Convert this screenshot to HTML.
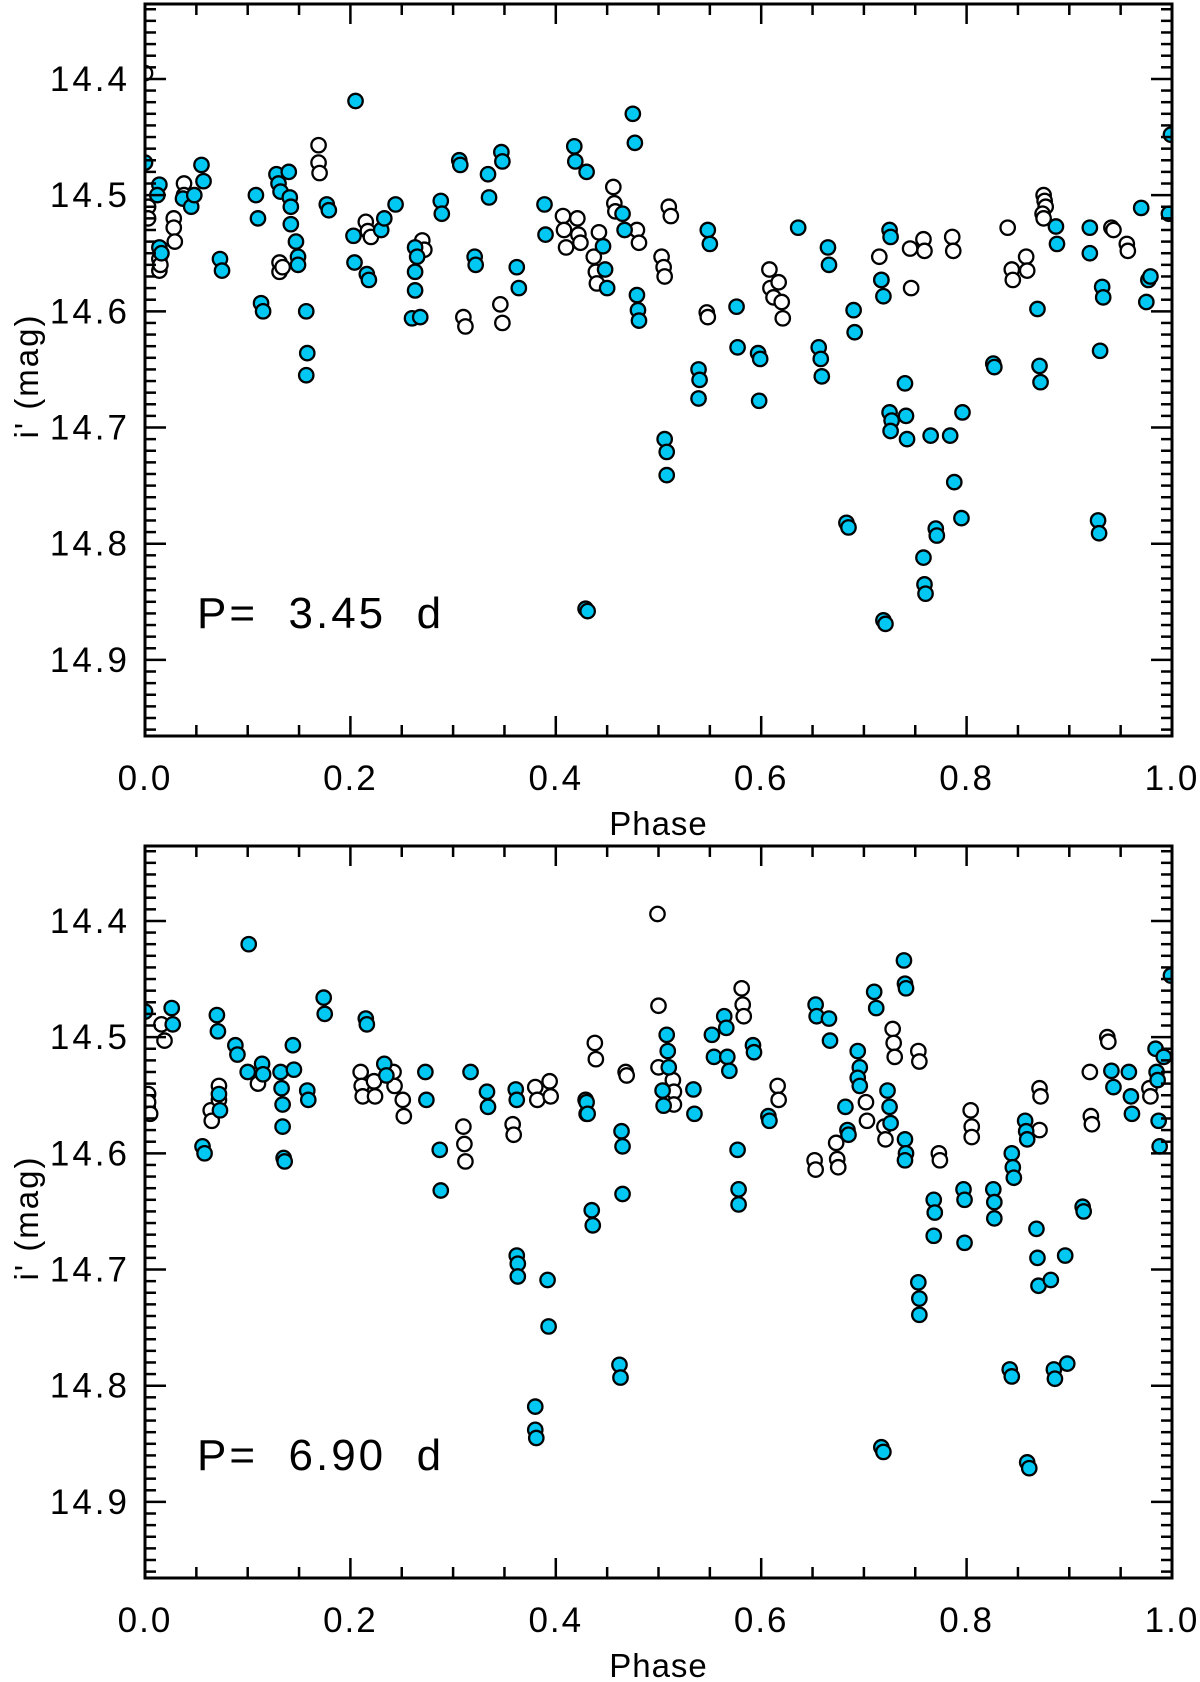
<!DOCTYPE html>
<html><head><meta charset="utf-8"><style>
body{margin:0;background:#fff}
svg{display:block}
text{font-family:"Liberation Sans",sans-serif;fill:#000}
</style></head><body>
<svg id="chart" width="1200" height="1682" viewBox="0 0 1200 1682" xmlns="http://www.w3.org/2000/svg"></svg>
<script>
// ---- Data: top panel (P = 3.45 d) ----
const topOpenPhase=[0,0.003,0.003,0.014,0.014,0.015,0.028,0.028,0.029,0.038,0.038,0.169,0.169,0.170,0.131,0.131,0.134,0.215,0.217,0.220,0.270,0.272,0.310,0.312,0.346,0.348,0.407,0.408,0.410,0.421,0.422,0.424,0.437,0.439,0.440,0.442,0.456,0.457,0.458,0.479,0.481,0.503,0.505,0.506,0.510,0.512,0.547,0.548,0.608,0.609,0.612,0.617,0.620,0.621,0.715,0.717,0.745,0.746,0.758,0.759,0.786,0.787,0.840,0.844,0.845,0.858,0.859,0.875,0.876,0.877,0.874,0.875,0.941,0.943,0.956,0.957];
const topOpenMag=[14.395,14.51,14.52,14.555,14.565,14.56,14.52,14.528,14.54,14.49,14.5,14.457,14.472,14.481,14.558,14.566,14.562,14.523,14.531,14.536,14.539,14.547,14.605,14.613,14.594,14.61,14.518,14.53,14.545,14.52,14.534,14.541,14.553,14.566,14.576,14.532,14.493,14.507,14.514,14.53,14.541,14.553,14.562,14.57,14.51,14.518,14.601,14.605,14.564,14.58,14.588,14.575,14.592,14.606,14.553,14.573,14.546,14.58,14.538,14.548,14.536,14.548,14.528,14.564,14.573,14.553,14.565,14.5,14.505,14.51,14.516,14.52,14.528,14.53,14.542,14.548];
const topFillPhase=[0,0.014,0.012,0.014,0.016,0.037,0.045,0.048,0.055,0.057,0.073,0.075,0.108,0.110,0.113,0.115,0.128,0.130,0.132,0.140,0.141,0.142,0.142,0.147,0.149,0.149,0.157,0.158,0.157,0.177,0.179,0.203,0.204,0.205,0.216,0.218,0.230,0.233,0.244,0.263,0.263,0.263,0.265,0.260,0.268,0.288,0.289,0.306,0.307,0.321,0.322,0.334,0.335,0.347,0.348,0.362,0.364,0.389,0.390,0.418,0.419,0.430,0.429,0.431,0.446,0.448,0.450,0.465,0.467,0.475,0.477,0.479,0.480,0.481,0.506,0.508,0.508,0.539,0.540,0.539,0.548,0.550,0.576,0.577,0.597,0.599,0.598,0.636,0.656,0.658,0.659,0.665,0.666,0.683,0.685,0.690,0.691,0.717,0.719,0.719,0.721,0.725,0.726,0.725,0.727,0.726,0.740,0.741,0.742,0.758,0.759,0.760,0.765,0.770,0.771,0.784,0.788,0.795,0.796,0.826,0.827,0.871,0.872,0.869,0.887,0.888,0.920,0.920,0.928,0.929,0.930,0.932,0.933,0.970,0.975,0.977,0.979,0.997,0.999];
const topFillMag=[14.472,14.491,14.5,14.545,14.55,14.503,14.51,14.5,14.474,14.488,14.555,14.565,14.5,14.52,14.593,14.6,14.482,14.49,14.497,14.48,14.502,14.51,14.525,14.54,14.553,14.56,14.6,14.636,14.655,14.508,14.513,14.535,14.558,14.419,14.568,14.573,14.53,14.52,14.508,14.545,14.566,14.582,14.553,14.606,14.605,14.505,14.516,14.47,14.474,14.553,14.56,14.482,14.502,14.463,14.471,14.562,14.58,14.508,14.534,14.458,14.471,14.48,14.856,14.858,14.544,14.564,14.58,14.516,14.53,14.43,14.455,14.586,14.599,14.608,14.71,14.721,14.741,14.65,14.659,14.675,14.53,14.542,14.596,14.631,14.636,14.641,14.677,14.528,14.631,14.641,14.656,14.545,14.56,14.782,14.786,14.599,14.618,14.573,14.587,14.866,14.869,14.53,14.536,14.687,14.694,14.703,14.662,14.69,14.71,14.812,14.835,14.843,14.707,14.787,14.793,14.707,14.747,14.778,14.687,14.645,14.648,14.647,14.661,14.598,14.527,14.542,14.528,14.55,14.78,14.791,14.634,14.579,14.588,14.511,14.592,14.573,14.57,14.516,14.448];
// ---- Data: bottom panel (P = 6.90 d) ----
const botOpenPhase=[0.003,0.003,0.005,0.016,0.019,0.064,0.065,0.072,0.072,0.110,0.210,0.211,0.212,0.223,0.224,0.242,0.243,0.251,0.252,0.310,0.311,0.312,0.358,0.359,0.380,0.382,0.394,0.395,0.429,0.430,0.438,0.439,0.468,0.469,0.499,0.500,0.500,0.514,0.515,0.515,0.581,0.582,0.583,0.616,0.617,0.652,0.653,0.673,0.674,0.675,0.702,0.703,0.720,0.721,0.728,0.729,0.730,0.753,0.754,0.773,0.774,0.804,0.805,0.805,0.871,0.872,0.871,0.920,0.921,0.922,0.937,0.938,0.978,0.979];
const botOpenMag=[14.549,14.556,14.566,14.489,14.503,14.563,14.572,14.542,14.554,14.54,14.53,14.542,14.551,14.538,14.551,14.53,14.542,14.554,14.568,14.577,14.592,14.607,14.575,14.584,14.543,14.554,14.538,14.551,14.554,14.566,14.505,14.519,14.53,14.533,14.394,14.473,14.526,14.537,14.547,14.558,14.458,14.472,14.482,14.542,14.554,14.606,14.614,14.591,14.605,14.612,14.556,14.572,14.577,14.588,14.493,14.505,14.517,14.512,14.521,14.6,14.606,14.563,14.577,14.586,14.544,14.551,14.58,14.53,14.568,14.575,14.5,14.504,14.544,14.551];
const botFillPhase=[0,0.026,0.027,0.056,0.058,0.070,0.071,0.072,0.073,0.088,0.090,0.101,0.100,0.114,0.115,0.132,0.133,0.134,0.134,0.135,0.136,0.144,0.145,0.158,0.159,0.174,0.175,0.215,0.216,0.233,0.235,0.273,0.274,0.287,0.288,0.317,0.333,0.334,0.361,0.362,0.362,0.363,0.363,0.380,0.380,0.381,0.392,0.393,0.430,0.431,0.435,0.436,0.462,0.463,0.464,0.465,0.465,0.504,0.505,0.508,0.509,0.510,0.534,0.535,0.552,0.554,0.564,0.566,0.567,0.569,0.577,0.578,0.578,0.592,0.593,0.607,0.608,0.653,0.654,0.666,0.667,0.682,0.684,0.685,0.694,0.696,0.694,0.696,0.710,0.712,0.717,0.719,0.723,0.725,0.726,0.739,0.740,0.741,0.740,0.741,0.740,0.753,0.754,0.754,0.768,0.769,0.768,0.797,0.798,0.798,0.826,0.827,0.827,0.842,0.844,0.844,0.845,0.846,0.857,0.858,0.859,0.859,0.861,0.868,0.869,0.870,0.882,0.885,0.886,0.896,0.898,0.913,0.914,0.941,0.943,0.958,0.960,0.961,0.984,0.985,0.986,0.987,0.988,0.992,0.999];
const botFillMag=[14.478,14.475,14.489,14.594,14.6,14.481,14.495,14.549,14.563,14.507,14.515,14.42,14.53,14.523,14.532,14.53,14.544,14.558,14.577,14.604,14.607,14.507,14.528,14.546,14.554,14.466,14.48,14.484,14.489,14.523,14.533,14.53,14.554,14.597,14.632,14.53,14.547,14.56,14.545,14.554,14.688,14.695,14.706,14.818,14.838,14.845,14.709,14.749,14.556,14.566,14.649,14.662,14.782,14.793,14.581,14.594,14.635,14.546,14.559,14.498,14.512,14.526,14.545,14.566,14.498,14.517,14.482,14.492,14.517,14.529,14.597,14.631,14.644,14.507,14.513,14.568,14.572,14.472,14.482,14.484,14.503,14.56,14.58,14.584,14.512,14.526,14.535,14.542,14.461,14.475,14.853,14.857,14.546,14.56,14.574,14.434,14.454,14.458,14.588,14.6,14.606,14.711,14.725,14.739,14.64,14.651,14.671,14.631,14.64,14.677,14.631,14.642,14.656,14.786,14.792,14.6,14.612,14.621,14.572,14.581,14.588,14.866,14.871,14.665,14.69,14.714,14.709,14.786,14.794,14.688,14.781,14.646,14.65,14.529,14.543,14.53,14.551,14.566,14.51,14.53,14.537,14.572,14.594,14.517,14.447];
// ---- Axis tick data ----
const xTickValues=[0.0,0.2,0.4,0.6,0.8,1.0];
const xTickLabels=["0.0","0.2","0.4","0.6","0.8","1.0"];
const yTickValues=[14.4,14.5,14.6,14.7,14.8,14.9];
const yTickLabels=["14.4","14.5","14.6","14.7","14.8","14.9"];
const panelLabels=["P=  3.45  d","P=  6.90  d"];

const NS="http://www.w3.org/2000/svg";
const svg=document.getElementById('chart');
const X0=145,X1=1172,MAGTOP=14.3355,MAGBOT=14.9655,PH=732;
function mk(tag,attrs,parent){const e=document.createElementNS(NS,tag);for(const k in attrs)e.setAttribute(k,attrs[k]);(parent||svg).appendChild(e);return e;}
function xScale(p){return X0+p*(X1-X0);}
function panel(top,idx,openP,openM,fillP,fillM){
  const bot=top+PH;
  const yScale=m=>top+(m-MAGTOP)/(MAGBOT-MAGTOP)*PH;
  const g=mk('g',{});
  
  
  const pts=mk('g',{},g);
  
  
  const nO=Math.min(openP.length,openM.length);
  for(let i=0;i<nO;i++){
    const c=mk('circle',{cx:xScale(openP[i]),cy:yScale(openM[i]),r:7.2,fill:'#fff',stroke:'#000','stroke-width':2.3},pts);
    
    
  }
  const nF=Math.min(fillP.length,fillM.length);
  for(let i=0;i<nF;i++){
    const c=mk('circle',{cx:xScale(fillP[i]),cy:yScale(fillM[i]),r:7.2,fill:'#00c8f2',stroke:'#000','stroke-width':2.3},pts);
    
    
  }
  mk('rect',{x:0,y:top-30,width:X0,height:PH+60,fill:'#fff'},g);
  mk('rect',{x:X1,y:top-30,width:1200-X1,height:PH+60,fill:'#fff'},g);
  const frame=mk('rect',{x:X0,y:top,width:X1-X0,height:PH,fill:'none',stroke:'#000','stroke-width':3},g);
  
  
  for(let k=0;k<=20;k++){
    const v=k*0.05,x=xScale(v),L=(k%4===0)?20:11;
    mk('line',{x1:x,y1:bot,x2:x,y2:bot-L,stroke:'#000','stroke-width':2.5},g);
    mk('line',{x1:x,y1:top,x2:x,y2:top+L,stroke:'#000','stroke-width':2.5},g);
  }
  xTickValues.forEach((v,i)=>{
    const t=mk('text',{x:xScale(v),y:bot+54,'text-anchor':'middle','font-size':35,'letter-spacing':2},g);
    t.textContent=xTickLabels[i];
    
    
  });
  for(let k=0;k<=64;k++){
    const m=14.34+k*0.01;if(m>MAGBOT)break;
    const y=yScale(m),major=Math.abs((m*10)-Math.round(m*10))<1e-6,L=major?21:11;
    mk('line',{x1:X0,y1:y,x2:X0+L,y2:y,stroke:'#000','stroke-width':2.5},g);
    mk('line',{x1:X1,y1:y,x2:X1-L,y2:y,stroke:'#000','stroke-width':2.5},g);
  }
  yTickValues.forEach((v,i)=>{
    const t=mk('text',{x:130,y:yScale(v)+12,'text-anchor':'end','font-size':35,'letter-spacing':3},g);
    t.textContent=yTickLabels[i];
    
    
  });
  const xt=mk('text',{x:(X0+X1)/2,y:bot+99,'text-anchor':'middle','font-size':33,'letter-spacing':1},g);
  xt.textContent='Phase';
  
  
  const yc=top+372;
  const yt=mk('text',{x:38,y:yc,'text-anchor':'middle','font-size':33,'letter-spacing':2,transform:'rotate(-90 38 '+yc+')'},g);
  yt.textContent="i' (mag)";
  
  
  const pl=mk('text',{x:197,y:top+624,'font-size':44,'letter-spacing':3,style:'white-space:pre'},g);
  pl.textContent=panelLabels[idx];
  
  
}
panel(4,0,topOpenPhase,topOpenMag,topFillPhase,topFillMag);
panel(846,1,botOpenPhase,botOpenMag,botFillPhase,botFillMag);
</script>
</body></html>
